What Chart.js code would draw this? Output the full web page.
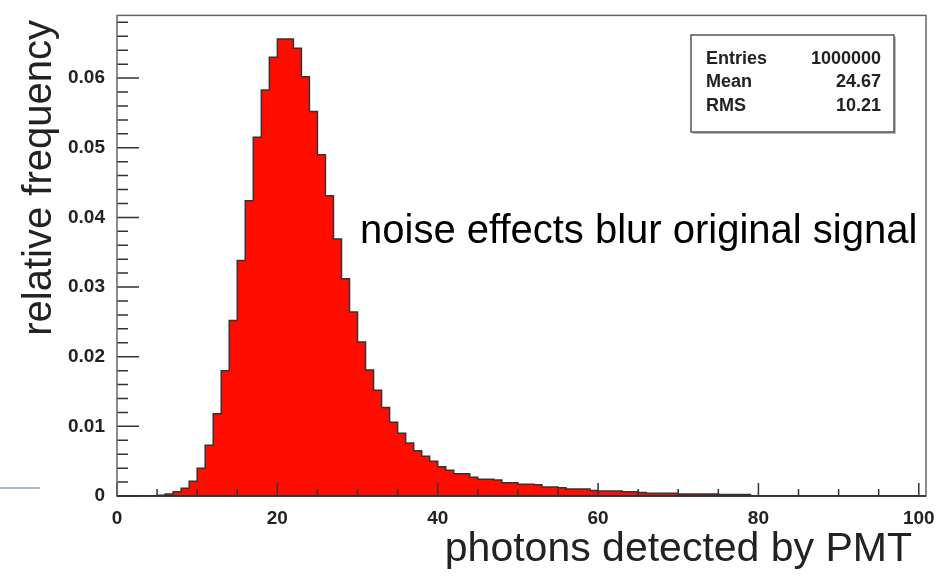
<!DOCTYPE html>
<html>
<head>
<meta charset="utf-8">
<script src="https://cdn.jsdelivr.net/npm/chart.js@4.4.1/dist/chart.umd.min.js"></script>
<style>
  html, body { margin: 0; padding: 0; background: #fff; }
  #wrap { width: 941px; height: 576px; position: relative; }
</style>
</head>
<body>
<div id="wrap"><canvas id="hist"></canvas></div>
<script>
// histogram: 100 bins of width 1, starting at 0
const binStart = 0;
const binWidth = 1;
const freq = [
  0, 0, 0, 0, 0, 0.0001, 0.0003, 0.0006, 0.0011, 0.0021,
  0.0040, 0.0073, 0.0118, 0.0180, 0.0252, 0.0338, 0.0424, 0.0515, 0.0583, 0.0630,
  0.0656, 0.0656, 0.0643, 0.0602, 0.0552, 0.0490, 0.0431, 0.0369, 0.0312, 0.0264,
  0.0221, 0.0181, 0.0152, 0.0127, 0.0106, 0.0090, 0.0076, 0.0065, 0.0057, 0.0050,
  0.0042, 0.0037, 0.0032, 0.0032, 0.0027, 0.0024, 0.0024, 0.0023, 0.0019, 0.0019,
  0.0017, 0.0017, 0.0016, 0.0013, 0.0013, 0.0012, 0.0010, 0.0010, 0.0010, 0.0008,
  0.0007, 0.0007, 0.0007, 0.0006, 0.0006, 0.0005, 0.0004, 0.0004, 0.0004, 0.0004,
  0.0003, 0.0003, 0.0003, 0.0003, 0.0003, 0.0002, 0.0002, 0.0002, 0.0002, 0,
  0, 0, 0, 0, 0, 0, 0, 0, 0, 0,
  0, 0, 0, 0, 0, 0, 0, 0, 0, 0
];
const xTicks = [0, 20, 40, 60, 80, 100];
const yTicks = [0, 0.01, 0.02, 0.03, 0.04, 0.05, 0.06];
const statNames = ['Entries', 'Mean', 'RMS'];
const statValues = ['1000000', '24.67', '10.21'];
const xTitle = 'photons detected by PMT';
const yTitle = 'relative frequency';
const note = 'noise effects blur original signal';

const points = freq.map((v, i) => ({ x: binStart + i * binWidth, y: v }));
points.push({ x: binStart + freq.length * binWidth, y: 0 });

const tickFont = { family: '"Liberation Sans", Arial, sans-serif', size: 19, weight: 'bold' };

// ROOT style: ticks pointing into the frame, frame on all sides, stats box and titles
const rootStyle = {
  id: 'rootStyle',
  afterDatasetsDraw(chart) {
    const { ctx, chartArea: a, scales: { x, y } } = chart;
    ctx.save();
    ctx.strokeStyle = '#333';
    ctx.lineWidth = 1.5;
    ctx.beginPath();
    for (let v = 0; v <= 100; v += 5) {
      const px = x.getPixelForValue(v);
      const len = v % 20 === 0 ? 13 : 7;
      ctx.moveTo(px, a.bottom);
      ctx.lineTo(px, a.bottom - len);
    }
    for (let i = 0; i <= 34; i++) {
      const v = i * 0.002;
      const py = y.getPixelForValue(v);
      const len = i % 5 === 0 ? 22 : 11;
      ctx.moveTo(a.left, py);
      ctx.lineTo(a.left + len, py);
    }
    ctx.stroke();
    // frame
    ctx.strokeStyle = '#666';
    ctx.strokeRect(a.left, a.top, a.right - a.left, a.bottom - a.top);
    ctx.strokeStyle = '#222';
    ctx.beginPath();
    ctx.moveTo(a.left, a.bottom);
    ctx.lineTo(a.right, a.bottom);
    ctx.stroke();
    ctx.restore();
  },
  afterDraw(chart) {
    const { ctx } = chart;
    ctx.save();
    // stats box
    ctx.fillStyle = '#bbb';
    ctx.fillRect(693, 37, 203, 97);
    ctx.fillStyle = '#fff';
    ctx.fillRect(691, 35, 203, 97);
    ctx.strokeStyle = '#555';
    ctx.lineWidth = 1.5;
    ctx.strokeRect(691, 35, 203, 97);
    ctx.fillStyle = '#222';
    ctx.font = 'bold 18px "Liberation Sans", Arial, sans-serif';
    ctx.textBaseline = 'middle';
    statNames.forEach((n, i) => {
      const ty = 59 + i * 23.5;
      ctx.textAlign = 'left';
      ctx.fillText(n, 706, ty);
      ctx.textAlign = 'right';
      ctx.fillText(statValues[i], 881, ty);
    });
    // annotation
    ctx.fillStyle = '#000';
    ctx.font = '40px "Liberation Sans", Arial, sans-serif';
    ctx.textAlign = 'left';
    ctx.textBaseline = 'alphabetic';
    ctx.fillText(note, 360, 243);
    // axis titles
    ctx.fillStyle = '#222';
    ctx.font = '41px "Liberation Sans", Arial, sans-serif';
    ctx.textAlign = 'right';
    ctx.fillText(xTitle, 912, 561);
    ctx.translate(51, 20);
    ctx.rotate(-Math.PI / 2);
    ctx.font = '40px "Liberation Sans", Arial, sans-serif';
    ctx.fillText(yTitle, 0, 0);
    ctx.restore();
    // slide decoration line on the left
    ctx.save();
    ctx.strokeStyle = '#a9bccd';
    ctx.lineWidth = 2;
    ctx.beginPath();
    ctx.moveTo(0, 488);
    ctx.lineTo(40, 488);
    ctx.stroke();
    ctx.restore();
  }
};

new Chart(document.getElementById('hist'), {
  type: 'line',
  data: {
    datasets: [{
      label: 'photons',
      data: points,
      stepped: true,
      fill: 'origin',
      backgroundColor: '#ff0d00',
      borderColor: '#333',
      borderWidth: 1.5,
      pointRadius: 0,
      tension: 0
    }]
  },
  options: {
    responsive: true,
    maintainAspectRatio: false,
    animation: false,
    layout: { padding: { left: 0, top: 11, right: 15, bottom: 0 } },
    plugins: { legend: { display: false }, tooltip: { enabled: false } },
    scales: {
      x: {
        type: 'linear',
        min: 0,
        max: 100.9,
        grid: { display: false },
        border: { display: false },
        afterBuildTicks: s => { s.ticks = xTicks.map(v => ({ value: v })); },
        afterFit: s => { s.height = 80; },
        ticks: { font: tickFont, color: '#222', padding: 3, maxRotation: 0, autoSkip: false }
      },
      y: {
        min: 0,
        max: 0.069,
        grid: { display: false },
        border: { display: false },
        afterBuildTicks: s => { s.ticks = yTicks.map(v => ({ value: v })); },
        afterFit: s => { s.width = 117; },
        ticks: {
          font: tickFont, color: '#222', padding: 4,
          callback: v => v === 0 ? '0' : v.toFixed(2)
        }
      }
    }
  },
  plugins: [rootStyle]
});
</script>
</body>
</html>
